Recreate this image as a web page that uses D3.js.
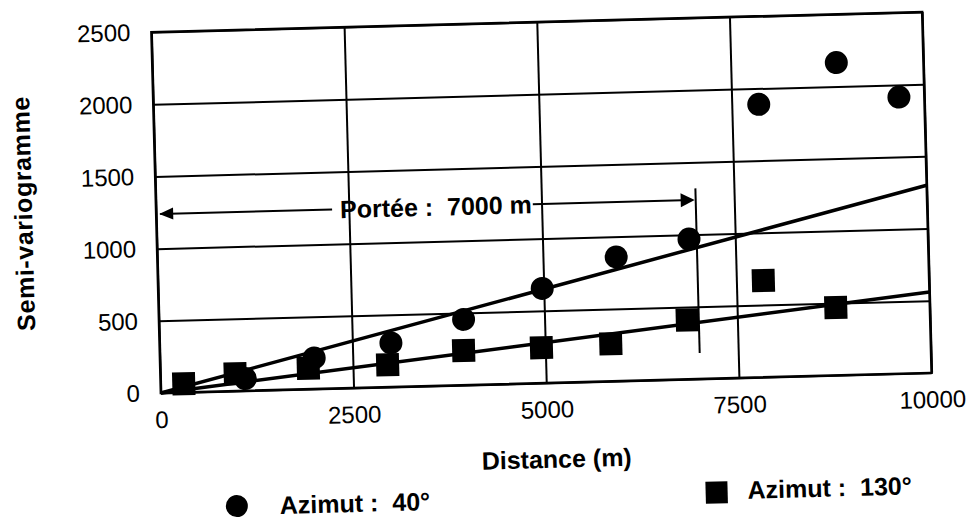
<!DOCTYPE html>
<html>
<head>
<meta charset="utf-8">
<script src="https://cdn.jsdelivr.net/npm/d3@7"></script>
<style>
	body { margin: 0; background: #fff; }
	text { font-family: "Liberation Sans", Arial, Helvetica, sans-serif; fill: #000; }
</style>
</head>
<body>
<script>
(function () {
	"use strict";

	var W = 971;
	var H = 518;
	var m = { left: 156, top: 22 };
	var w = 771;
	var h = 361;

	var xTicks = [0, 2500, 5000, 7500, 10000];
	var yTicks = [0, 500, 1000, 1500, 2000, 2500];

	// azimut 40 (circles)
	var dist40 = [1100, 2000, 3000, 3950, 4980, 5950, 6900, 7850, 8870, 9670];
	var gamma40 = [85, 215, 305, 455, 655, 860, 970, 1890, 2165, 1915];

	// azimut 130 (squares)
	var dist130 = [300, 970, 1920, 2950, 3940, 4950, 5850, 6850, 7850, 8780];
	var gamma130 = [60, 120, 145, 155, 240, 245, 260, 410, 670, 470];

	// fitted lines
	var fit40 = [[0, 0], [10000, 1300]];
	var fit130 = [[0, 0], [10000, 560]];

	// range annotation
	var rangeDist = 7000;
	var rangeY = 1240;
	var rangeBar = [180, 1320];
	var rangeLabel = "Portée :  7000 m";
	var rangeLabelX = 3630;

	var legend40 = "Azimut :  40°";
	var legend130 = "Azimut :  130°";

	var svg = d3.select("body")
		.append("svg")
		.attr("width", W)
		.attr("height", H);

	// the scan is slightly tilted
	var root = svg.append("g")
		.attr("transform", "rotate(-1.5 541.5 202.5)");

	var g = root.append("g")
		.attr("transform", "translate(" + m.left + "," + m.top + ")");

	var xScale = d3.scaleLinear().domain([0, 10000]).range([0, w]);
	var yScale = d3.scaleLinear().domain([0, 2500]).range([h, 0]);

	var xAxis = g.append("g")
		.attr("transform", "translate(0," + h + ")")
		.call(d3.axisBottom(xScale).tickValues(xTicks).tickSize(-h).tickPadding(18).tickFormat(d3.format("d")));

	var yAxis = g.append("g")
		.call(d3.axisLeft(yScale).tickValues(yTicks).tickSize(-w).tickPadding(21).tickFormat(d3.format("d")));

	[xAxis, yAxis].forEach(function (ax) {
		ax.select(".domain").remove();
		ax.selectAll(".tick line").attr("stroke", "#000").attr("stroke-width", 2);
		ax.selectAll(".tick text")
			.style("font-size", "24px")
			.attr("fill", "#000");
	});

	// frame
	g.append("rect")
		.attr("width", w)
		.attr("height", h)
		.attr("fill", "none")
		.attr("stroke", "#000")
		.attr("stroke-width", 2.5);

	var lineFun = d3.line()
		.x((d) => xScale(d[0]))
		.y((d) => yScale(d[1]));

	[fit40, fit130].forEach(function (f) {
		g.append("path")
			.attr("d", lineFun(f))
			.attr("stroke", "#000")
			.attr("stroke-width", 3.5)
			.attr("fill", "none");
	});

	// range bar + arrow
	g.append("line")
		.attr("x1", xScale(rangeDist))
		.attr("x2", xScale(rangeDist))
		.attr("y1", yScale(rangeBar[0]))
		.attr("y2", yScale(rangeBar[1]))
		.attr("stroke", "#000")
		.attr("stroke-width", 2);

	var label = g.append("text")
		.attr("x", xScale(rangeLabelX))
		.attr("y", yScale(rangeY))
		.attr("dy", "0.36em")
		.attr("text-anchor", "middle")
		.style("font-size", "25px")
		.style("font-weight", "bold")
		.style("white-space", "pre")
		.text(rangeLabel);

	var bb = label.node().getBBox();
	var ay = yScale(rangeY);

	g.append("line")
		.attr("x1", xScale(0) + 4)
		.attr("x2", bb.x - 8)
		.attr("y1", ay).attr("y2", ay)
		.attr("stroke", "#000").attr("stroke-width", 2);

	g.append("line")
		.attr("x1", bb.x + bb.width + 1)
		.attr("x2", xScale(rangeDist) - 4)
		.attr("y1", ay).attr("y2", ay)
		.attr("stroke", "#000").attr("stroke-width", 2);

	var lx = xScale(0) + 3;
	var rx = xScale(rangeDist) - 1;
	g.append("path")
		.attr("d", "M" + lx + "," + ay + "L" + (lx + 14) + "," + (ay - 6) + "L" + (lx + 14) + "," + (ay + 6) + "Z")
		.attr("fill", "#000");
	g.append("path")
		.attr("d", "M" + rx + "," + ay + "L" + (rx - 14) + "," + (ay - 7) + "L" + (rx - 14) + "," + (ay + 7) + "Z")
		.attr("fill", "#000");

	// points
	var sq = 23;

	g.selectAll(".p130")
		.data(d3.zip(dist130, gamma130))
		.enter().append("rect")
		.attr("class", "p130")
		.attr("x", (d) => xScale(d[0]) - sq / 2)
		.attr("y", (d) => yScale(d[1]) - sq / 2)
		.attr("width", sq)
		.attr("height", sq)
		.attr("fill", "#000");

	g.selectAll(".p40")
		.data(d3.zip(dist40, gamma40))
		.enter().append("circle")
		.attr("class", "p40")
		.attr("cx", (d) => xScale(d[0]))
		.attr("cy", (d) => yScale(d[1]))
		.attr("r", 11.5)
		.attr("fill", "#000");

	// axis titles
	root.append("text")
		.attr("transform", "translate(32,200) rotate(-90)")
		.attr("text-anchor", "middle")
		.style("font-size", "25px")
		.style("font-weight", "bold")
		.style("letter-spacing", "0.6px")
		.text("Semi-variogramme");

	root.append("text")
		.attr("x", 550)
		.attr("y", 468)
		.attr("text-anchor", "middle")
		.style("font-size", "25px")
		.style("font-weight", "bold")
		.text("Distance (m)");

	// legend
	root.append("circle")
		.attr("cx", 229)
		.attr("cy", 498)
		.attr("r", 11)
		.attr("fill", "#000");

	root.append("text")
		.attr("x", 272)
		.attr("y", 507)
		.style("font-size", "25px")
		.style("font-weight", "bold")
		.style("white-space", "pre")
		.text(legend40);

	root.append("rect")
		.attr("x", 709 - 11)
		.attr("y", 497 - 11)
		.attr("width", 22)
		.attr("height", 22)
		.attr("fill", "#000");

	root.append("text")
		.attr("x", 740)
		.attr("y", 504)
		.style("font-size", "25px")
		.style("font-weight", "bold")
		.style("white-space", "pre")
		.text(legend130);
})();
</script>
</body>
</html>
